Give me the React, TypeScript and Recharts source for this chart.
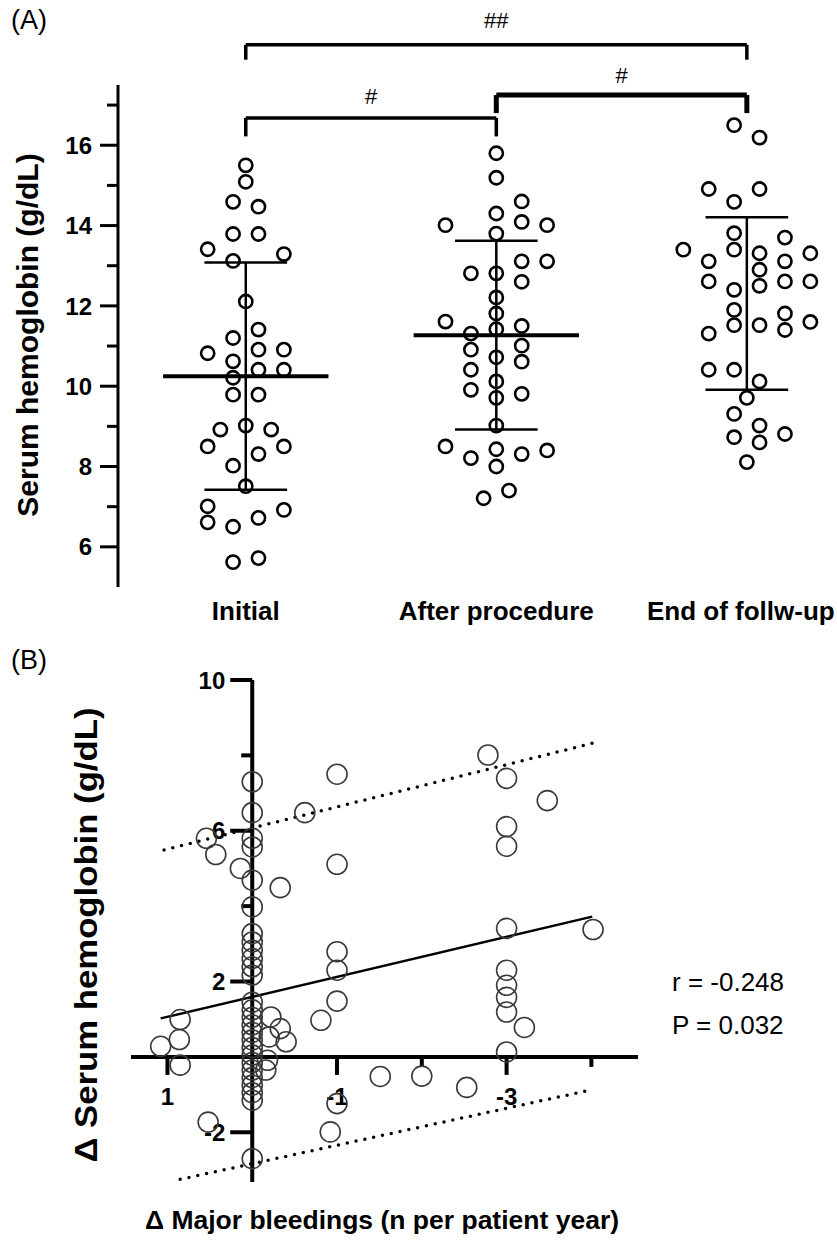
import React from 'react';
import { ScatterChart, Scatter, XAxis, YAxis, ReferenceLine, ReferenceDot } from 'recharts';

const FONT = '"Liberation Sans", Arial, Helvetica, sans-serif';

// ---------- panel A data ----------
const categories = ['Initial', 'After procedure', 'End of follw-up'];

// [column offset, serum hemoglobin g/dL]
const initialPoints: [number, number][] = [
  [0, 15.5], [0, 15.09], [-1, 14.59], [1, 14.47], [-1, 13.79], [1, 13.79], [-3, 13.41], [-1, 13.12],
  [3, 13.29], [0, 12.11], [1, 11.41], [-1, 11.2], [-3, 10.82], [1, 10.91], [3, 10.91], [-1, 10.62],
  [1, 10.41], [3, 10.41], [-1, 10.21], [-1, 9.79], [1, 9.79], [-2, 8.92], [0, 9.02], [2, 8.92],
  [-3, 8.5], [3, 8.5], [1, 8.31], [-1, 8.02], [0, 7.51], [-3, 7.01], [3, 6.92], [-3, 6.61],
  [1, 6.72], [-1, 6.5], [-1, 5.62], [1, 5.72],
];

const afterPoints: [number, number][] = [
  [0, 15.8], [0, 15.19], [2, 14.6], [0, 14.3], [2, 14.09], [-4, 14.01], [4, 14.01], [0, 13.8],
  [2, 13.11], [4, 13.11], [-2, 12.81], [0, 12.81], [2, 12.6], [0, 12.21], [0, 11.81], [-4, 11.61],
  [0, 11.42], [2, 11.5], [-2, 11.31], [-2, 10.91], [2, 11.01], [0, 10.72], [2, 10.61], [-2, 10.41],
  [0, 10.12], [0, 9.71], [-2, 9.91], [2, 9.81], [0, 9.02], [-4, 8.5], [4, 8.4], [-2, 8.21],
  [0, 8.43], [2, 8.31], [0, 8.0], [-1, 7.21], [1, 7.4],
];

const endPoints: [number, number][] = [
  [-1, 16.5], [1, 16.19], [-3, 14.91], [1, 14.91], [-1, 14.59], [-1, 13.81], [3, 13.7], [-5, 13.4],
  [-1, 13.4], [-3, 13.11], [1, 13.31], [3, 13.11], [5, 13.31], [1, 12.9], [-3, 12.61], [-1, 12.4],
  [1, 12.5], [3, 12.61], [5, 12.61], [-1, 11.9], [3, 11.81], [5, 11.6], [-3, 11.31], [-1, 11.52],
  [1, 11.52], [3, 11.4], [-3, 10.41], [-1, 10.41], [1, 10.12], [0, 9.71], [-1, 9.31], [1, 9.02],
  [-1, 8.73], [1, 8.6], [3, 8.81], [0, 8.11],
];

const groupMeans = [10.25, 11.27, 12.06];
const groupSDs = [2.83, 2.35, 2.15];

const yTicksA = [6, 7, 8, 9, 10, 11, 12, 13, 14, 15, 16, 17];

// significance brackets (levels in g/dL)
const brackets = [
  { from: 0, to: 1, label: '#', level: 16.68, leg: 16.22, text: 17.03 },
  { from: 1, to: 2, label: '#', level: 17.25, leg: 16.8, text: 17.55 },
  { from: 0, to: 2, label: '##', level: 18.5, leg: 18.13, text: 18.92 },
];

// ---------- panel B data ----------
// [Δ major bleedings, Δ serum hemoglobin]
const noChangeHb = [
  7.3, 6.48, 5.8, 5.57, 4.69, 3.98, 3.27, 3.05, 2.83, 2.61, 2.39, 2.17, 1.45, 1.25, 1.05, 0.85,
  0.65, 0.45, 0.25, 0.05, -0.15, -0.35, -0.55, -0.75, -0.95, -1.15, -2.7,
];

const changedPoints: [number, number][] = [
  [0.54, 5.8], [0.43, 5.37], [0.14, 5.0], [-0.33, 4.49], [-0.62, 6.48], [-1.0, 7.5], [-1.0, 5.11],
  [-1.0, 2.79], [-1.0, 2.3], [-1.0, 1.48], [-1.0, -1.24], [-0.81, 0.97], [-0.92, -1.99],
  [0.85, 0.99], [0.86, 0.46], [1.08, 0.28], [0.85, -0.22], [0.52, -1.73],
  [-0.22, 1.06], [-0.2, 0.53], [-0.33, 0.75], [-0.4, 0.4], [-0.18, -0.09], [-0.16, -0.35],
  [-1.51, -0.52], [-2.0, -0.51], [-2.53, -0.81],
  [-3.0, 7.39], [-3.0, 6.11], [-3.0, 5.59], [-3.0, 3.41], [-3.0, 2.3], [-3.0, 1.9], [-3.0, 1.58],
  [-3.0, 1.19], [-3.0, 0.13], [-3.21, 0.78], [-2.78, 8.01], [-3.48, 6.8], [-4.02, 3.38],
];

const fitLine: [number, number][] = [[1.08, 1.02], [-4.01, 3.72]];
const upperBand: [number, number][] = [[1.04, 5.49], [-4.01, 8.32]];
const lowerBand: [number, number][] = [[0.85, -3.25], [-4.01, -0.87]];

const yTicksB = [10, 8, 6, 4, 2, -2];
const yTickLabelsB = ['10', '', '6', '', '2', '-2'];
const xTicksB = [1, -1, -2, -3, -4];
const xTickLabelsB = ['1', '-1', '', '-3', ''];

// ---------- helpers ----------
const COL_STEP = 0.0507;

const toXY = (pairs: [number, number][]) => pairs.map(([x, y]) => ({ x, y }));

const pointsA = [initialPoints, afterPoints, endPoints].flatMap((group, g) =>
  group.map(([col, v]) => ({ x: g + col * COL_STEP, y: v }))
);

const pointsB = [...noChangeHb.map((v) => ({ x: 0, y: v })), ...toXY(changedPoints)];

const RingA = (props: any) => (
  <circle cx={props.cx} cy={props.cy} r={6.6} fill="none" stroke="#000" strokeWidth={2.6} />
);

const RingB = (props: any) => (
  <circle cx={props.cx} cy={props.cy} r={10} fill="none" stroke="#3a3a3a" strokeWidth={1.6} />
);

const NoDot = () => <g />;

const HbTickA = (props: any) => {
  const { x, y, payload } = props;
  const major = payload.value % 2 === 0;
  const len = major ? 18 : 11;
  return (
    <g>
      <line x1={x - len} x2={x} y1={y} y2={y} stroke="#000" strokeWidth={3} />
      {major && (
        <text x={x - len - 8} y={y} dy="0.36em" textAnchor="end" fontSize={24} fontWeight="bold" fontFamily={FONT} fill="#000">
          {payload.value}
        </text>
      )}
    </g>
  );
};

const CategoryTick = (props: any) => {
  const { x, y, payload } = props;
  // the last label sits against the right edge, as in the figure
  const shift = payload.value === categories.length - 1 ? -6 : 0;
  return (
    <text x={x + shift} y={y + 33} textAnchor="middle" fontSize={26} fontWeight="bold" fontFamily={FONT} fill="#000">
      {categories[payload.value]}
    </text>
  );
};

const bracketLabel = (label: string) => (props: any) => (
  <text x={props.cx} y={props.cy} textAnchor="middle" fontSize={22} fontFamily={FONT} fill="#000">
    {label}
  </text>
);

const yTickB = (label: string) => (props: any) => {
  const { cx, cy } = props;
  const len = label ? 22 : 11;
  return (
    <g>
      <line x1={cx - len} x2={cx} y1={cy} y2={cy} stroke="#000" strokeWidth={4} />
      {label && (
        <text x={cx - len - 5} y={cy} dy="0.36em" textAnchor="end" fontSize={24} fontWeight="bold" fontFamily={FONT} fill="#000">
          {label}
        </text>
      )}
    </g>
  );
};

const xTickB = (label: string) => (props: any) => {
  const { cx, cy } = props;
  const len = label ? 18 : 10;
  return (
    <g>
      <line x1={cx} x2={cx} y1={cy} y2={cy + len} stroke="#000" strokeWidth={4} />
      {label && (
        <text x={cx} y={cy + 48} textAnchor="middle" fontSize={24} fontWeight="bold" fontFamily={FONT} fill="#000">
          {label}
        </text>
      )}
    </g>
  );
};

const PanelA = () => (
  <ScatterChart width={837} height={640} margin={{ top: 85, right: 15, bottom: 0, left: 0 }}>
    <XAxis
      type="number"
      dataKey="x"
      domain={[-0.51, 2.3]}
      ticks={[0, 1, 2]}
      allowDataOverflow
      axisLine={false}
      tickLine={false}
      tickSize={0}
      tickMargin={0}
      height={53}
      tick={<CategoryTick />}
      interval={0}
    />
    <YAxis
      type="number"
      dataKey="y"
      domain={[5, 17.5]}
      ticks={yTicksA}
      allowDataOverflow
      width={118}
      axisLine={{ stroke: '#000', strokeWidth: 3 }}
      tickLine={false}
      tickSize={0}
      tickMargin={0}
      tick={<HbTickA />}
      interval={0}
    />
    {groupMeans.map((m, g) => (
      <React.Fragment key={`stat-${g}`}>
        <ReferenceLine segment={[{ x: g - 0.33, y: m }, { x: g + 0.33, y: m }]} stroke="#000" strokeWidth={4} />
        <ReferenceLine segment={[{ x: g, y: m - groupSDs[g] }, { x: g, y: m + groupSDs[g] }]} stroke="#000" strokeWidth={2.5} />
        <ReferenceLine segment={[{ x: g - 0.165, y: m + groupSDs[g] }, { x: g + 0.165, y: m + groupSDs[g] }]} stroke="#000" strokeWidth={2.5} />
        <ReferenceLine segment={[{ x: g - 0.165, y: m - groupSDs[g] }, { x: g + 0.165, y: m - groupSDs[g] }]} stroke="#000" strokeWidth={2.5} />
      </React.Fragment>
    ))}
    {brackets.map((b, i) => {
      const w = i === 1 ? 5 : 3.5;
      return (
        <React.Fragment key={`br-${i}`}>
          <ReferenceLine ifOverflow="visible" segment={[{ x: b.from, y: b.level }, { x: b.to, y: b.level }]} stroke="#000" strokeWidth={w} />
          <ReferenceLine ifOverflow="visible" segment={[{ x: b.from, y: b.level }, { x: b.from, y: b.leg }]} stroke="#000" strokeWidth={w} />
          <ReferenceLine ifOverflow="visible" segment={[{ x: b.to, y: b.level }, { x: b.to, y: b.leg }]} stroke="#000" strokeWidth={w} />
          <ReferenceDot ifOverflow="visible" x={(b.from + b.to) / 2} y={b.text} shape={bracketLabel(b.label)} />
        </React.Fragment>
      );
    })}
    <Scatter data={pointsA} shape={RingA} isAnimationActive={false} />
  </ScatterChart>
);

const PanelB = () => (
  <ScatterChart width={837} height={600} margin={{ top: 40, right: 199, bottom: 58, left: 131 }}>
    <XAxis type="number" dataKey="x" hide domain={[-4.55, 1.43]} reversed allowDataOverflow />
    <YAxis type="number" dataKey="y" hide domain={[-3.32, 10]} allowDataOverflow />
    <Scatter
      data={toXY(upperBand)}
      line={{ stroke: '#000', strokeWidth: 3.5, strokeDasharray: '0 9', strokeLinecap: 'round' }}
      shape={NoDot}
      isAnimationActive={false}
    />
    <Scatter
      data={toXY(lowerBand)}
      line={{ stroke: '#000', strokeWidth: 3.5, strokeDasharray: '0 9', strokeLinecap: 'round' }}
      shape={NoDot}
      isAnimationActive={false}
    />
    <Scatter data={toXY(fitLine)} line={{ stroke: '#000', strokeWidth: 2.4 }} shape={NoDot} isAnimationActive={false} />
    <ReferenceLine x={0} stroke="#000" strokeWidth={4} />
    <ReferenceLine y={0} stroke="#000" strokeWidth={4} />
    {yTicksB.map((v, i) => (
      <ReferenceDot key={`yt-${v}`} x={0} y={v} ifOverflow="visible" shape={yTickB(yTickLabelsB[i])} />
    ))}
    {xTicksB.map((v, i) => (
      <ReferenceDot key={`xt-${v}`} x={v} y={0} ifOverflow="visible" shape={xTickB(xTickLabelsB[i])} />
    ))}
    <Scatter data={pointsB} shape={RingB} isAnimationActive={false} />
  </ScatterChart>
);

export default function App() {
  return (
    <div style={{ position: 'absolute', left: 0, top: 0, width: 837, height: 1240, background: '#fff' }}>
      <div style={{ position: 'absolute', left: 0, top: 0 }}>
        <PanelA />
      </div>
      <div style={{ position: 'absolute', left: 0, top: 640 }}>
        <PanelB />
      </div>
      <svg width={837} height={1240} style={{ position: 'absolute', left: 0, top: 0, pointerEvents: 'none' }}>
        <g fontFamily={FONT} fill="#000">
          <text x={11} y={29} fontSize={27}>(A)</text>
          <text x={11} y={669} fontSize={27}>(B)</text>
          <text x={27} y={335} fontSize={30} fontWeight="bold" textAnchor="middle" dy="0.36em" transform="rotate(-90 27 335)">
            Serum hemoglobin (g/dL)
          </text>
          <text
            x={86}
            y={935}
            fontSize={31}
            fontWeight="bold"
            textAnchor="middle"
            dy="0.36em"
            textLength={455}
            lengthAdjust="spacingAndGlyphs"
            transform="rotate(-90 86 935)"
          >
            Δ Serum hemoglobin (g/dL)
          </text>
          <text x={382} y={1229} fontSize={26.5} fontWeight="bold" textAnchor="middle">
            Δ Major bleedings (n per patient year)
          </text>
          <text x={672} y={991} fontSize={26}>r = -0.248</text>
          <text x={672} y={1034} fontSize={26}>P = 0.032</text>
        </g>
      </svg>
    </div>
  );
}
